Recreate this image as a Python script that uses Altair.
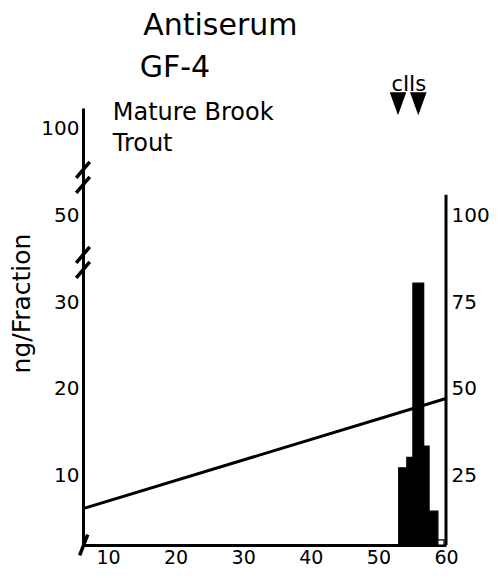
import altair as alt
import pandas as pd

# ---- data ----
bar_start = [53.0, 54.2, 55.1, 56.7, 57.5, 58.8]      # fraction number (left edge)
bar_end = [54.2, 55.1, 56.7, 57.5, 58.8, 59.7]        # fraction number (right edge)
bar_ng = [10.9, 12.1, 32.2, 13.4, 5.9, 2.6]           # ng/fraction (axis units)
bar_fill = ["black", "black", "black", "black", "black", "white"]

line_fraction = [6.3, 60.0]
line_value = [6.2, 18.9]

x_ticks = [10, 20, 30, 40, 50, 60]
left_tick_pos = [10, 20, 30, 40, 50]
left_tick_labels = ["10", "20", "30", "50", "100"]
right_ticks = [25, 50, 75, 100]
break_levels = [34.6, 44.4]

marker_fraction = [52.9, 55.9]
marker_level = [52.9, 52.9]

labels_text = ["Antiserum", "GF-4", "Mature Brook", "Trout"]
labels_x = [15.2, 14.7, 10.7, 10.7]
labels_y = [61.9, 57.0, 51.8, 48.2]
labels_size = [30, 30, 24, 24]

X_DOMAIN = [6.3, 60.0]
Y_DOMAIN = [2.0, 52.4]
R_DOMAIN = [5.0, 131.0]
FONT = "DejaVu Sans"

# ---- tables ----
bars_df = pd.DataFrame({"x": bar_start, "x2": bar_end, "y": bar_ng,
                        "y2": [Y_DOMAIN[0]] * len(bar_ng), "fill": bar_fill})
line_df = pd.DataFrame({"x": line_fraction, "y": line_value})
marker_df = pd.DataFrame({"x": marker_fraction, "y": marker_level})
text_df = pd.DataFrame({"x": labels_x, "y": labels_y, "t": labels_text, "s": labels_size})
cii_df = pd.DataFrame({"x": [54.5], "y": [55.0], "t": ["cIIs"]})

slash_rows = []
for lv in break_levels:
    for off in (-0.86, 0.86):
        slash_rows.append({"x": X_DOMAIN[0] - 1.0, "y": lv + off - 0.92,
                           "x2": X_DOMAIN[0] + 1.0, "y2": lv + off + 0.92})
slash_rows.append({"x": X_DOMAIN[0] - 0.5, "y": Y_DOMAIN[0] - 1.2,
                   "x2": X_DOMAIN[0] + 0.7, "y2": Y_DOMAIN[0] + 1.2})
slash_df = pd.DataFrame(slash_rows)

right_df = pd.DataFrame({"x": [X_DOMAIN[1]], "y": [R_DOMAIN[0]], "y2": [106.0]})

# ---- encodings ----
label_expr = ""
for p, l in zip(left_tick_pos, left_tick_labels):
    label_expr += f"datum.value == {p} ? '{l}' : "
label_expr += "''"

xs = alt.Scale(domain=X_DOMAIN, nice=False, zero=False)
ys = alt.Scale(domain=Y_DOMAIN, nice=False, zero=False)

X = alt.X("x:Q", scale=xs, axis=alt.Axis(
    values=x_ticks, ticks=False, grid=False, title=None, labelFontSize=19,
    labelPadding=3, labelFlush=False, labelOverlap=False, domainWidth=3,
    domainColor="black", labelColor="black", labelFont=FONT))
Y = alt.Y("y:Q", scale=ys, axis=alt.Axis(
    values=left_tick_pos, labelExpr=label_expr, ticks=False, grid=False,
    labelFontSize=20, labelPadding=4, domainWidth=3, domainColor="black",
    labelColor="black", labelFont=FONT, title="ng/Fraction",
    titleFont=FONT, titleFontSize=25, titleFontWeight="normal", titleColor="black",
    titleAngle=270, titleAlign="center", titleBaseline="middle",
    titleX=-62, titleY=195))

bars = alt.Chart(bars_df).mark_bar(stroke="black", strokeWidth=1.2).encode(
    x=X, x2="x2:Q", y=Y, y2="y2:Q",
    fill=alt.Fill("fill:N", scale=None))

line = alt.Chart(line_df).mark_line(color="black", strokeWidth=3).encode(x=X, y=Y)

slashes = alt.Chart(slash_df).mark_rule(color="black", strokeWidth=3.5).encode(
    x=X, x2="x2:Q", y=Y, y2="y2:Q")

markers = alt.Chart(marker_df).mark_point(
    shape="M-0.72,-1L0.72,-1L0,1Z", filled=True, color="black", opacity=1,
    size=529).encode(x=X, y=Y)

texts = alt.Chart(text_df).mark_text(
    align="left", baseline="middle", font=FONT, color="black").encode(
    x=X, y=Y, text="t:N", size=alt.Size("s:Q", scale=None))

cii = alt.Chart(cii_df).mark_text(
    align="center", baseline="middle", font=FONT, color="black", fontSize=21).encode(
    x=X, y=Y, text="t:N")

left = alt.layer(bars, line, slashes, markers, texts, cii)

right = alt.Chart(right_df).mark_rule(color="black", strokeWidth=3).encode(
    x=X,
    y=alt.Y("y:Q", scale=alt.Scale(domain=R_DOMAIN, nice=False, zero=False),
            axis=alt.Axis(orient="right", values=right_ticks, ticks=False,
                          domain=False, grid=False, title=None, labelFontSize=20,
                          labelPadding=5, labelColor="black", labelFont=FONT)),
    y2="y2:Q")

chart = alt.layer(left, right).resolve_scale(y="independent").properties(
    width=363, height=437,
    padding={"left": 75, "top": 100, "right": 44, "bottom": 24},
    autosize=alt.AutoSizeParams(type="none"),
).configure_view(stroke=None)

chart.save("out.html", embed_options={"renderer": "svg", "actions": False})
